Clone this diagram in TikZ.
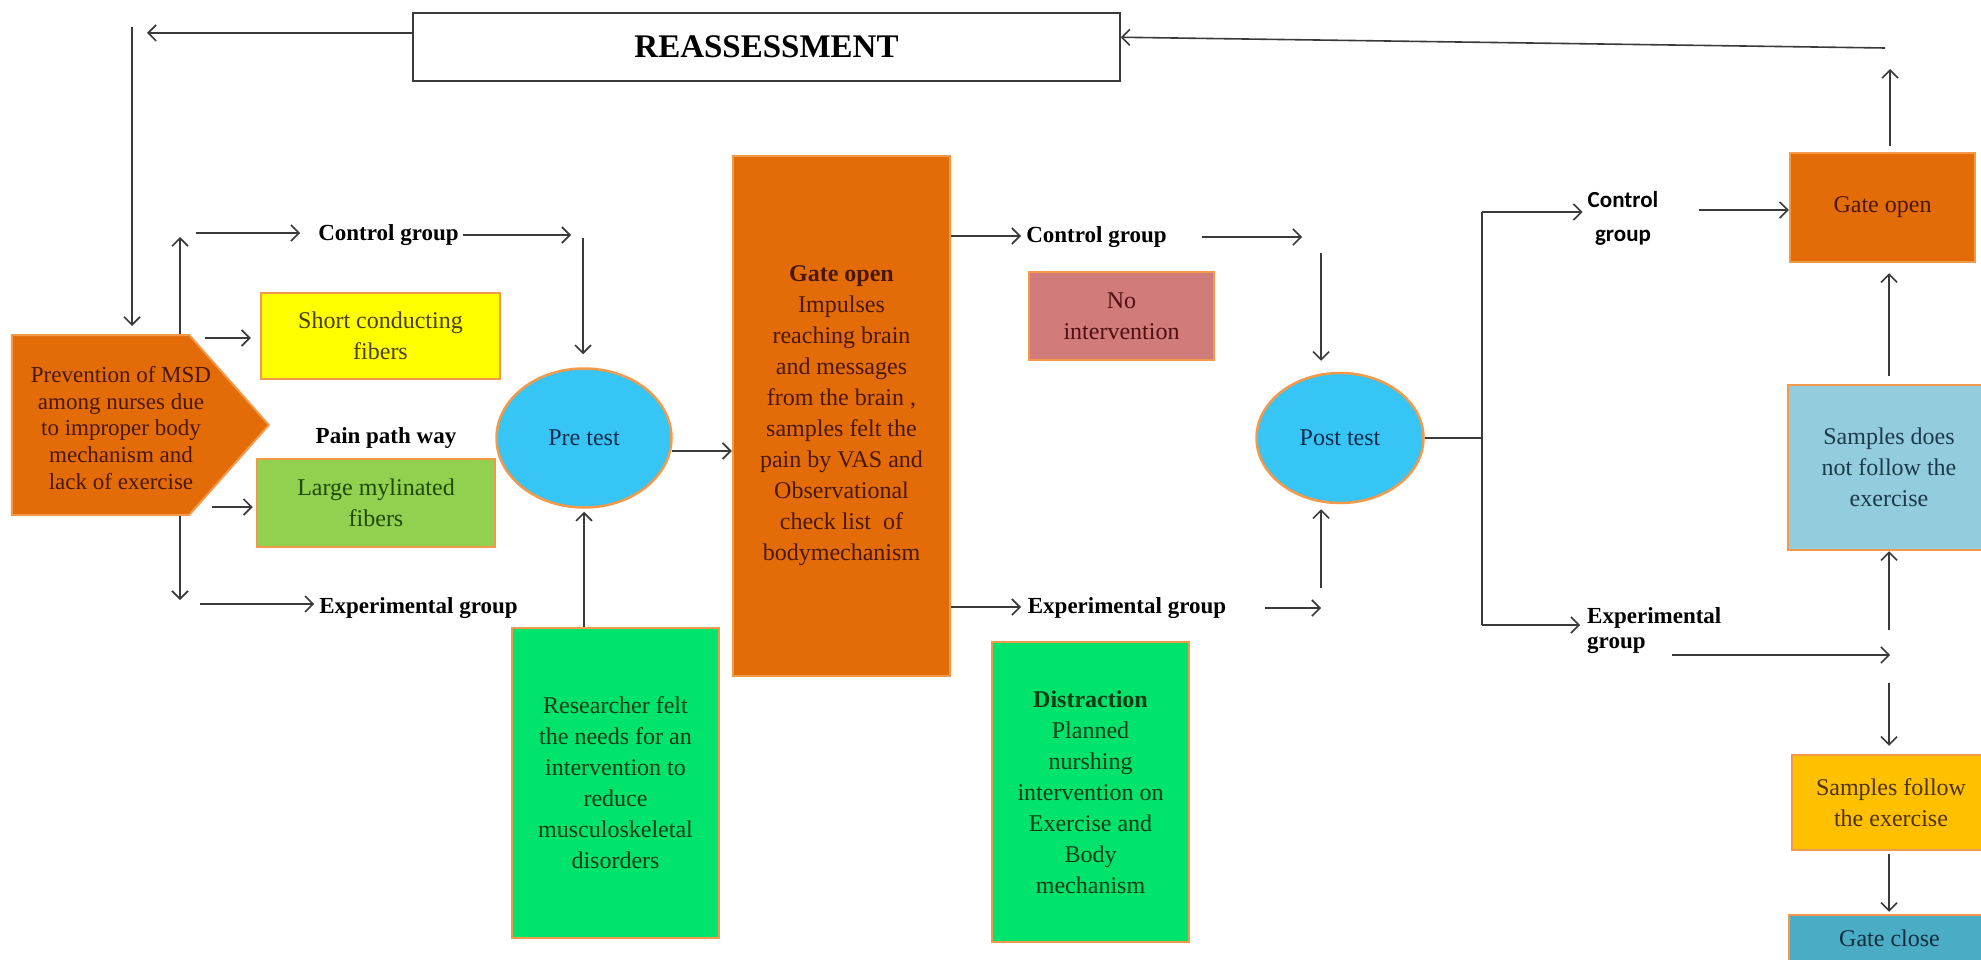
\documentclass[tikz,border=0pt]{standalone}
\usepackage{fontspec}
\setmainfont{Liberation Serif}
\newfontfamily\carlito{Carlito}
\usetikzlibrary{arrows.meta,shapes.geometric,shapes.symbols,calc}
\definecolor{lineC}{HTML}{3A3A3A}
\definecolor{bord}{HTML}{F2994A}
\definecolor{orangeF}{HTML}{E36C09}
\definecolor{brownT}{HTML}{4A1800}
\definecolor{yellowF}{HTML}{FFFF00}
\definecolor{olivT}{HTML}{4A4000}
\definecolor{lgreenF}{HTML}{92D050}
\definecolor{dgreenT}{HTML}{1E4A00}
\definecolor{cyanF}{HTML}{36C5F4}
\definecolor{navyT}{HTML}{0D2A4D}
\definecolor{greenF}{HTML}{00E36C}
\definecolor{greenT}{HTML}{0A3D14}
\definecolor{roseF}{HTML}{D27B7B}
\definecolor{roseT}{HTML}{4D0F0F}
\definecolor{lblueF}{HTML}{93CDDD}
\definecolor{lblueT}{HTML}{1B3A4B}
\definecolor{amberF}{HTML}{FFC000}
\definecolor{amberT}{HTML}{4D3300}
\definecolor{tealF}{HTML}{4BACC6}
\definecolor{tealT}{HTML}{0E2D3D}
\begin{document}
\begin{tikzpicture}[x=1pt,y=-1pt,
  line/.style={draw=lineC, line width=1.6pt},
  arr/.style={line, -{Straight Barb[length=8pt,width=16pt]}},
  box/.style={draw=bord, line width=2.5pt, align=center, inner sep=0pt,
    font=\fontsize{24}{31}\selectfont},
  lbl/.style={font=\bfseries\fontsize{23}{25}\selectfont, inner sep=0pt},
  oval/.style={ellipse, draw=bord, line width=2.5pt, fill=cyanF, text=navyT,
    inner sep=0pt, font=\fontsize{24}{28}\selectfont}
]
\useasboundingbox[fill=white] (0,0) rectangle (1981,960);

% nodes
\node[draw=lineC, line width=1.5pt, fill=white, minimum width=707pt, minimum height=68pt,
  inner sep=0pt, font=\bfseries\fontsize{33}{37}\selectfont] (reass) at (766.5,47) {REASSESSMENT};

\node[signal, signal to=east, signal pointer angle=97, draw=bord, line width=2pt, fill=orangeF,
  minimum width=257pt, minimum height=180pt, inner sep=0pt] (pent) at (100.5,425) {};
\node[align=center, inner sep=0pt, text=brownT, font=\fontsize{23}{26.7}\selectfont] (penttxt)
  at (121,428) {Prevention of MSD\\among nurses due\\to improper body\\mechanism and\\lack of exercise};

\node[box, fill=yellowF, text=olivT, minimum width=239pt, minimum height=86pt] (short) at (380.5,336) {Short conducting\\fibers};
\node[lbl] (pain) at (386,438) {Pain path way};
\node[box, fill=lgreenF, text=dgreenT, minimum width=238pt, minimum height=88pt] (large) at (376,503) {Large mylinated\\fibers};

\node[lbl] (ctl1) at (388.5,235) {Control group};
\node[lbl] (exp1) at (418.5,608) {Experimental group};

\node[oval, minimum width=175pt, minimum height=139pt] (pre) at (584,438) {Pre test};
\node[box, fill=greenF, text=greenT, minimum width=207pt, minimum height=310pt] (res) at (615.5,783)
  {Researcher felt\\the needs for an\\intervention to\\reduce\\musculoskeletal\\disorders};

\node[box, fill=orangeF, text=brownT, minimum width=217pt, minimum height=520pt] (gate) at (841.5,416)
  {\textbf{Gate open}\\Impulses\\reaching brain\\and messages\\from the brain ,\\samples felt the\\pain by VAS and\\Observational\\check list\ \ of\\bodymechanism};

\node[lbl] (ctl2) at (1096.5,237) {Control group};
\node[lbl] (exp2) at (1127,608) {Experimental group};
\node[box, fill=roseF, text=roseT, minimum width=185pt, minimum height=88pt] (noint) at (1121.5,316) {No\\intervention};
\node[box, fill=greenF, text=greenT, minimum width=197pt, minimum height=300pt] (dist) at (1090.5,792)
  {\textbf{Distraction}\\Planned\\nurshing\\intervention on\\Exercise and\\Body\\mechanism};

\node[oval, minimum width=167pt, minimum height=130pt] (post) at (1340,438) {Post test};

\node[font=\carlito\bfseries\fontsize{23}{34}\selectfont, align=center, inner sep=0pt] (ctl3) at (1623,218) {Control\\group};
\node[lbl, align=left, anchor=west] (exp3) at (1587,630.5) {Experimental\\group};

\node[box, fill=orangeF, text=brownT, minimum width=185pt, minimum height=109pt] (gate2) at (1882.5,207.5) {Gate open};
\node[box, fill=lblueF, text=lblueT, minimum width=202pt, minimum height=165pt] (nf) at (1889,467.5) {Samples does\\not follow the\\exercise};
\node[box, fill=amberF, text=amberT, minimum width=198pt, minimum height=95pt] (fol) at (1891,802.5) {Samples follow\\the exercise};
\node[box, fill=tealF, text=tealT, minimum width=201pt, minimum height=46pt] (gc) at (1889.5,938) {Gate close};

% left column connectors
\coordinate (rl) at (147,33);
\coordinate (vt) at (132,27);
\draw[arr] (reass.west |- rl) -- (rl);
\draw[arr, shorten >=8pt] (vt) -- (vt |- pent.north);

\coordinate (cu) at (180,237);
\draw[arr] (cu |- pent.north) -- (cu);
\coordinate (ca) at (196,233);
\draw[arr, shorten >=18pt] (ca) -- (ca -| ctl1.west);
\coordinate (cb) at (571,235);
\draw[arr, shorten <=4pt] (ctl1.east) -- (cb);
\coordinate (cc) at (583,238);
\draw[arr, shorten >=13pt] (cc) -- (cc |- pre.north);

\coordinate (ps) at (205,338);
\draw[arr, shorten >=9pt] (ps) -- (ps -| short.west);
\coordinate (pl) at (212,507);
\draw[arr, shorten >=3pt] (pl) -- (pl -| large.west);
\coordinate (cd) at (180,600);
\draw[arr] (cd |- pent.south) -- (cd);
\coordinate (ea) at (200,604);
\draw[arr, shorten >=5pt] (ea) -- (ea -| exp1.west);

\draw[arr, shorten >=3pt] (pre.south |- res.north) -- (pre.south);
\coordinate (pe) at ($(pre.east)+(-1,13)$);
\draw[arr] (pe) -- (pe -| gate.west);

% middle connectors
\coordinate (g1) at (1021,236);
\draw[arr] (g1 -| gate.east) -- (g1);
\coordinate (g2) at (1021,607);
\draw[arr] (g2 -| gate.east) -- (g2);
\coordinate (m1) at (1302,237);
\draw[arr, shorten <=35pt] (ctl2.east) -- (m1);
\coordinate (m2) at (1321,253);
\draw[arr, shorten >=11pt] (m2) -- (m2 |- post.north);
\coordinate (m3) at (1321,608);
\draw[arr, shorten <=39pt] (exp2.east) -- (m3);
\coordinate (m4) at (1321,588);
\draw[arr, shorten >=5pt] (m4) -- (m4 |- post.south);

% right connectors
\coordinate (bt) at (1482,212);
\coordinate (bb) at (1482,625);
\draw[line] (post.east) -- (post.east -| bt);
\draw[line] (bt) -- (bb);
\draw[arr, shorten >=5pt] (bt) -- (bt -| ctl3.west);
\draw[arr, shorten >=7pt] (bb) -- (bb -| exp3.west);
\coordinate (r1) at (1699,210);
\draw[arr] (r1) -- (r1 -| gate2.west);
\coordinate (r2) at (1672,655);
\coordinate (r3) at (1890,655);
\draw[arr] (r2) -- (r3);
\coordinate (r4) at (1889,630);
\draw[arr] (r4) -- (r4 |- nf.south);
\coordinate (r5) at (1889,683);
\draw[arr, shorten >=8pt] (r5) -- (r5 |- fol.north);
\draw[arr, shorten <=3pt, shorten >=2pt] (fol.south -| r5) -- (gc.north -| r5);
\draw[arr, shorten <=8pt, shorten >=10pt] (nf.north -| r5) -- (gate2.south -| r5);
\coordinate (r6) at (1890,69);
\draw[arr, shorten <=6pt] (gate2.north -| r6) -- (r6);
\coordinate (r7) at (1885,48);
\draw[arr] (r7) -- ($(reass.north east)+(0,25)$);
\end{tikzpicture}
\end{document}
